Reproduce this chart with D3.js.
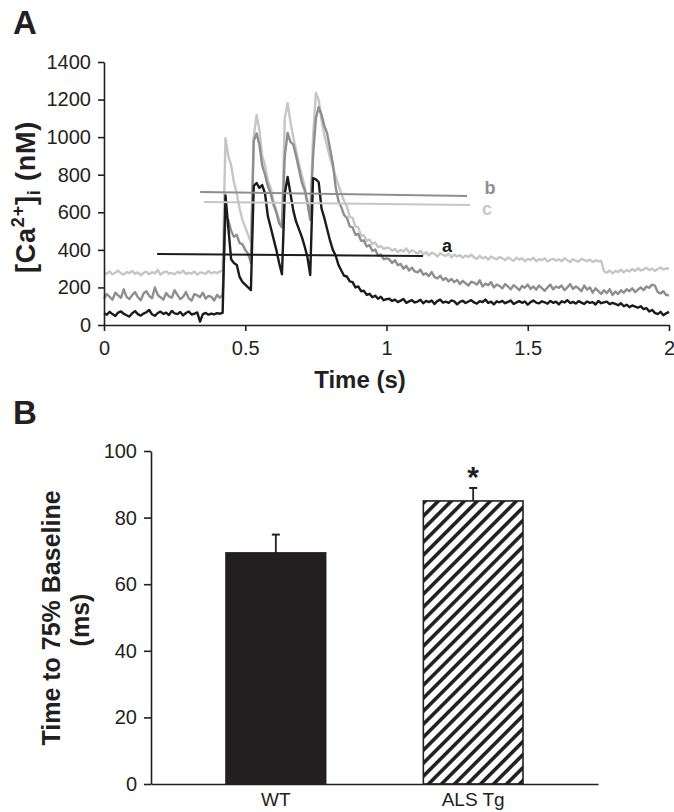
<!DOCTYPE html>
<html>
<head>
<meta charset="utf-8">
<script src="https://cdn.jsdelivr.net/npm/d3@7"></script>
<style>
  html, body { margin: 0; padding: 0; background: #fff; }
  svg { display: block; font-family: "Liberation Sans", Arial, sans-serif; }
</style>
</head>
<body>
<svg id="chart" width="674" height="812"></svg>
<script>
// ---------------- DATA ----------------
// Panel A: [Ca2+]i traces (nM), sampled every 10 ms from 0 to 2 s
const sampleStep = 0.01;
const traceA = [
  62,55,70,58,48,66,72,60,52,45,63,74,58,50,61,68,80,57,49,64,
  71,59,66,53,75,62,58,69,51,64,72,56,60,67,18,58,64,55,61,57,
  63,60,65,690,520,350,330,320,256,230,215,200,186,740,756,730,745,700,580,520,
  460,400,330,270,700,788,700,610,550,510,470,420,362,266,782,775,760,620,570,510,
  450,400,370,320,290,262,258,232,228,200,205,180,182,160,166,148,156,140,150,132,
  138,
  140,128,135,122,130,138,118,126,132,120,
  125,134,116,128,122,130,112,127,135,119,
  124,118,131,126,110,123,129,117,125,132,
  120,114,127,122,135,118,124,110,126,121,
  128,116,123,130,112,120,127,118,125,108,
  122,130,119,115,126,121,113,128,118,124,
  110,126,120,132,117,123,114,127,119,112,
  125,118,122,109,128,116,120,124,111,118,
  112,105,116,100,108,95,104,98,92,100,
  85,90,72,80,65,58,70,52,62,70
];
const traceB = [
  140,165,150,135,172,158,145,190,150,138,160,175,148,132,168,180,155,142,200,160,
  148,135,170,152,145,185,160,138,150,175,142,130,165,158,148,172,140,155,150,130,
  160,145,160,575,560,500,470,480,436,430,400,380,330,980,1020,960,850,800,740,700,
  640,600,540,520,900,1022,975,960,900,830,760,720,650,560,900,1100,1160,1120,1060,1020,
  940,860,735,660,628,585,570,525,520,480,485,448,450,418,425,395,402,370,375,350,
  355,
  350,330,345,318,325,300,315,290,305,285,
  280,295,268,275,260,282,255,248,262,240,
  250,232,245,228,240,218,235,222,210,230,
  225,215,238,205,220,212,228,200,215,208,
  195,218,205,190,212,200,185,208,198,215,
  192,205,188,210,196,182,200,215,190,205,
  198,210,185,200,218,192,205,195,180,210,
  188,200,172,195,180,165,185,170,190,160,
  178,165,185,172,190,180,195,175,188,200,
  185,205,198,215,210,175,168,180,160,158
];
const traceC = [
  280,272,285,270,278,290,275,268,282,276,288,272,280,265,278,284,270,281,275,292,
  268,279,286,273,277,270,283,276,290,271,279,274,285,268,280,277,272,288,275,281,
  276,284,290,995,900,850,760,700,620,560,520,480,440,1000,1118,1040,900,850,770,730,
  660,610,560,530,1100,1182,1080,1000,930,860,800,740,660,570,1000,1235,1198,1090,1010,950,
  890,840,790,745,700,660,630,575,570,525,520,475,478,448,455,430,440,415,420,405,
  412,
  410,395,405,388,400,392,408,385,398,390,
  380,395,375,388,370,385,378,365,382,372,
  368,380,360,375,365,372,358,370,362,375,
  360,352,368,355,362,348,365,356,350,362,
  355,345,360,350,342,358,348,355,340,352,
  346,358,340,350,345,355,338,348,352,342,
  350,340,355,345,335,350,342,338,352,345,
  340,348,335,345,338,342,285,278,290,275,
  288,282,295,280,292,285,298,288,302,290,
  296,305,292,300,288,298,306,295,302,298
];
// Threshold lines: label, start/end time (s), start/end value (nM)
const thresholdLabels = ["a", "b", "c"];
const thresholdT0 = [0.188, 0.340, 0.354];
const thresholdT1 = [1.129, 1.285, 1.296];
const thresholdV0 = [378, 708, 655];
const thresholdV1 = [367, 687, 639];

const xTicksA = [0, 0.5, 1, 1.5, 2];
const yTicksA = [0, 200, 400, 600, 800, 1000, 1200, 1400];

// Panel B
const groups = ["WT", "ALS Tg"];
const meanMs = [69.4, 85.0];
const semMs = [5.5, 3.9];
const yTicksB = [0, 20, 40, 60, 80, 100];

// ---------------- DRAW ----------------
const svg = d3.select("#chart");
const ink = "#231f20";
const traceColors = { a: "#1c1a1b", b: "#8e8e8e", c: "#c6c6c6" };

// Panel A scales
const xA = d3.scaleLinear().domain([0, 2]).range([104, 669]);
const yA = d3.scaleLinear().domain([0, 1400]).range([325, 62]);

const defs = svg.append("defs");
const pat = defs.append("pattern")
  .attr("id", "hatch")
  .attr("patternUnits", "userSpaceOnUse")
  .attr("width", 9.2).attr("height", 9.2)
  .attr("patternTransform", "rotate(45)");
pat.append("rect").attr("width", 9.2).attr("height", 9.2).attr("fill", "#fff");
pat.append("rect").attr("x", 0).attr("width", 3.6).attr("height", 9.2).attr("fill", ink);

// Panel labels
svg.append("text").attr("x", 13).attr("y", 34)
  .attr("font-size", 33).attr("font-weight", "bold").attr("fill", ink).text("A");
svg.append("text").attr("x", 13).attr("y", 424)
  .attr("font-size", 33).attr("font-weight", "bold").attr("fill", ink).text("B");

// Traces
const lineGen = d3.line()
  .x((d, i) => xA(i * sampleStep))
  .y(d => yA(d));

const gTr = svg.append("g");
[["c", traceC], ["b", traceB], ["a", traceA]].forEach(([k, arr]) => {
  gTr.append("path")
    .datum(arr)
    .attr("d", lineGen)
    .attr("fill", "none")
    .attr("stroke", traceColors[k])
    .attr("stroke-width", 2.4)
    .attr("stroke-linejoin", "round");
});

// Threshold lines and labels
const labelPos = { a: [447, 252], b: [490, 194], c: [487, 215] };
thresholdLabels.forEach((lab, i) => {
  gTr.append("line")
    .attr("x1", xA(thresholdT0[i])).attr("x2", xA(thresholdT1[i]))
    .attr("y1", yA(thresholdV0[i])).attr("y2", yA(thresholdV1[i]))
    .attr("stroke", traceColors[lab]).attr("stroke-width", 2);
  gTr.append("text")
    .attr("x", labelPos[lab][0]).attr("y", labelPos[lab][1])
    .attr("text-anchor", "middle")
    .attr("font-size", 18).attr("font-weight", "bold")
    .attr("fill", traceColors[lab]).text(lab);
});

function styleAxis(g, fs) {
  g.selectAll("path.domain").attr("stroke", ink).attr("stroke-width", 1.6);
  g.selectAll(".tick line").attr("stroke", ink).attr("stroke-width", 1.6);
  g.selectAll(".tick text").attr("fill", ink).attr("font-size", fs)
    .attr("font-family", '"Liberation Sans", Arial, sans-serif');
}

// Panel A axes
const gxA = svg.append("g").attr("transform", "translate(0,325)")
  .call(d3.axisBottom(xA).tickValues(xTicksA).tickSize(6).tickSizeOuter(0).tickPadding(10)
    .tickFormat(d => String(d)));
styleAxis(gxA, 20);
const gyA = svg.append("g").attr("transform", "translate(104,0)")
  .call(d3.axisLeft(yA).tickValues(yTicksA).tickSize(6).tickSizeOuter(0).tickPadding(7)
    .tickFormat(d => String(d)));
styleAxis(gyA, 20);

svg.append("text").attr("x", 360).attr("y", 388)
  .attr("text-anchor", "middle").attr("font-size", 24).attr("font-weight", "bold")
  .attr("fill", ink).text("Time (s)");

const caLab = svg.append("text")
  .attr("transform", "translate(35,197) rotate(-90)")
  .attr("text-anchor", "middle").attr("font-size", 27).attr("font-weight", "bold")
  .attr("letter-spacing", 0.8)
  .attr("fill", ink);
caLab.append("tspan").text("[Ca");
caLab.append("tspan").attr("font-size", 18).attr("dy", -11).text("2+");
caLab.append("tspan").attr("dy", 11).text("]");
caLab.append("tspan").attr("font-size", 18).attr("dy", 5).text("i");
caLab.append("tspan").attr("dy", -5).text(" (nM)");

// Panel B scales
const xB = d3.scaleBand().domain(groups).range([151, 598])
  .paddingInner(0.495).paddingOuter(0.38);
const yB = d3.scaleLinear().domain([0, 100]).range([784, 451]);

const gBars = svg.append("g");
groups.forEach((g, i) => {
  const x0 = xB(g), w = xB.bandwidth(), cx = x0 + w / 2;
  gBars.append("line").attr("x1", cx).attr("x2", cx)
    .attr("y1", yB(meanMs[i])).attr("y2", yB(meanMs[i] + semMs[i]))
    .attr("stroke", ink).attr("stroke-width", 1.8);
  gBars.append("line").attr("x1", cx - 4).attr("x2", cx + 4)
    .attr("y1", yB(meanMs[i] + semMs[i])).attr("y2", yB(meanMs[i] + semMs[i]))
    .attr("stroke", ink).attr("stroke-width", 2);
  gBars.append("rect")
    .attr("x", x0).attr("width", w)
    .attr("y", yB(meanMs[i])).attr("height", yB(0) - yB(meanMs[i]))
    .attr("fill", i === 0 ? ink : "url(#hatch)")
    .attr("stroke", ink).attr("stroke-width", 1.6);
});
svg.append("text")
  .attr("x", xB("ALS Tg") + xB.bandwidth() / 2).attr("y", 487)
  .attr("text-anchor", "middle").attr("font-size", 30).attr("font-weight", "bold")
  .attr("fill", ink).text("*");

const gxB = svg.append("g").attr("transform", "translate(0,784)")
  .call(d3.axisBottom(xB).tickSize(0).tickSizeOuter(0).tickPadding(9));
styleAxis(gxB, 19);
const gyB = svg.append("g").attr("transform", "translate(151,0)")
  .call(d3.axisLeft(yB).tickValues(yTicksB).tickSize(7).tickSizeOuter(0).tickPadding(7));
styleAxis(gyB, 20);

const yLabB = svg.append("text")
  .attr("transform", "translate(0,618) rotate(-90)")
  .attr("text-anchor", "middle").attr("font-size", 25).attr("font-weight", "bold")
  .attr("fill", ink);
yLabB.append("tspan").attr("x", 0).attr("y", 60).text("Time to 75% Baseline");
yLabB.append("tspan").attr("x", -2).attr("y", 89).text("(ms)");
</script>
</body>
</html>
